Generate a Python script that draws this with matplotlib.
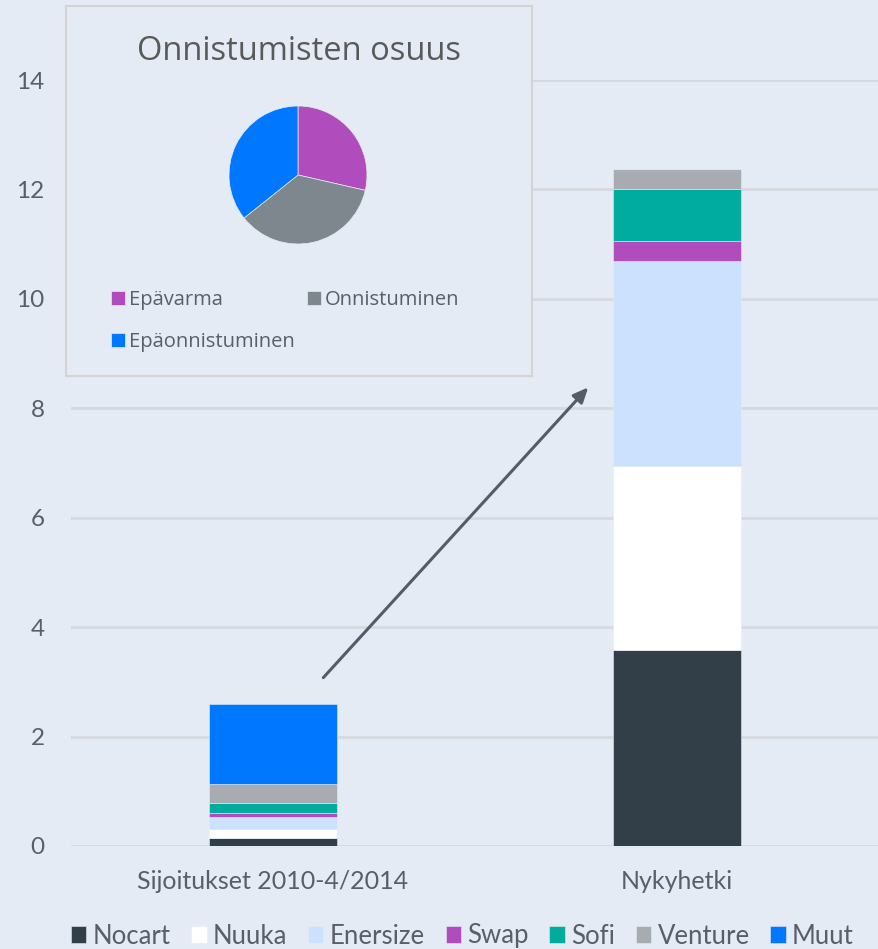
import matplotlib.pyplot as plt
import numpy as np

# data
categories = ['Sijoitukset 2010-4/2014', 'Nykyhetki']
series = ['Nocart', 'Nuuka', 'Enersize', 'Swap', 'Sofi', 'Venture', 'Muut']
values = {
    'Nocart':   [0.15, 3.58],
    'Nuuka':    [0.16, 3.37],
    'Enersize': [0.22, 3.75],
    'Swap':     [0.08, 0.36],
    'Sofi':     [0.17, 0.95],
    'Venture':  [0.35, 0.36],
    'Muut':     [1.46, 0.0],
}
colors = ['#333F48', '#FFFFFF', '#CCE1FD', '#B04CBC', '#00AC9F', '#A8ACB0', '#0077FF']

pie_labels = ['Epävarma', 'Onnistuminen', 'Epäonnistuminen']
pie_values = [4, 5, 5]
pie_colors = ['#B04CBC', '#7F878E', '#0077FF']

bg = '#E5EBF5'
txt = '#595E69'
plt.rcParams['font.family'] = ['Lato', 'DejaVu Sans']

W, H = 879, 949
fig = plt.figure(figsize=(W / 100, H / 100), dpi=100, facecolor=bg)

def box(x0, y0, x1, y1):
    return [x0 / W, 1 - y1 / H, (x1 - x0) / W, (y1 - y0) / H]

ax = fig.add_axes(box(71, 80, 879, 846))
ax.set_facecolor(bg)
x = np.arange(len(categories))
bottom = np.zeros(len(categories))
for name, c in zip(series, colors):
    v = np.array(values[name])
    ax.bar(x, v, 0.315, bottom=bottom, color=c, label=name, zorder=3,
           edgecolor=bg, linewidth=0.4)
    bottom += v

ax.set_xlim(-0.5, 1.5)
ax.set_ylim(0, 14)
ax.set_yticks(np.arange(0, 15, 2))
ax.set_xticks(x)
ax.set_xticklabels(categories)
ax.yaxis.grid(True, color='#D6D9DE', linewidth=2, zorder=0)
for s in ax.spines.values():
    s.set_visible(False)
ax.tick_params(axis='both', length=0, colors=txt, labelsize=17.5)
ax.tick_params(axis='x', labelsize=18, pad=17)
ax.tick_params(axis='y', pad=19)

ax.annotate('', xy=(0.785, 8.42), xytext=(0.12, 3.04),
            arrowprops=dict(arrowstyle='-|>,head_length=0.9,head_width=0.4',
                            color='#555C68', lw=2.2), zorder=5)

fig.legend(loc='center', bbox_to_anchor=(0.526, 1 - 936 / H), ncol=7, frameon=False,
           fontsize=18.5, labelcolor=txt, handlelength=0.6, handleheight=0.6,
           handletextpad=0.25, columnspacing=0.8, borderpad=0)

# inset with pie
ins = fig.add_axes(box(66, 6, 532, 376))
ins.set_facecolor(bg)
ins.set_xticks([])
ins.set_yticks([])
for s in ins.spines.values():
    s.set_color('#D3D3D3')
    s.set_linewidth(1.5)
ins.text(0.5, 1 - (51 - 6) / 370, 'Onnistumisten osuus', ha='center', va='center',
         fontsize=23.5, color='#595959', family='Open Sans', transform=ins.transAxes)

pax = fig.add_axes(box(229, 106, 367, 244))
wedges, _ = pax.pie(pie_values, colors=pie_colors, startangle=90, counterclock=False,
                    wedgeprops=dict(edgecolor='#E5EBF5', linewidth=0.5))
pax.set_xlim(-1, 1)
pax.set_ylim(-1, 1)

order = [0, 2, 1]
ins.legend([wedges[i] for i in order], [pie_labels[i] for i in order], ncol=2,
           loc='upper left', bbox_to_anchor=(0.075, 1 - (280 - 6) / 370), frameon=False,
           prop={'family': 'Open Sans', 'size': 14.5}, labelcolor=txt,
           handlelength=0.7, handleheight=0.7, handletextpad=0.2,
           columnspacing=0.6, labelspacing=1.1, borderpad=0)

fig.savefig('out.png', dpi=100, facecolor=bg)
